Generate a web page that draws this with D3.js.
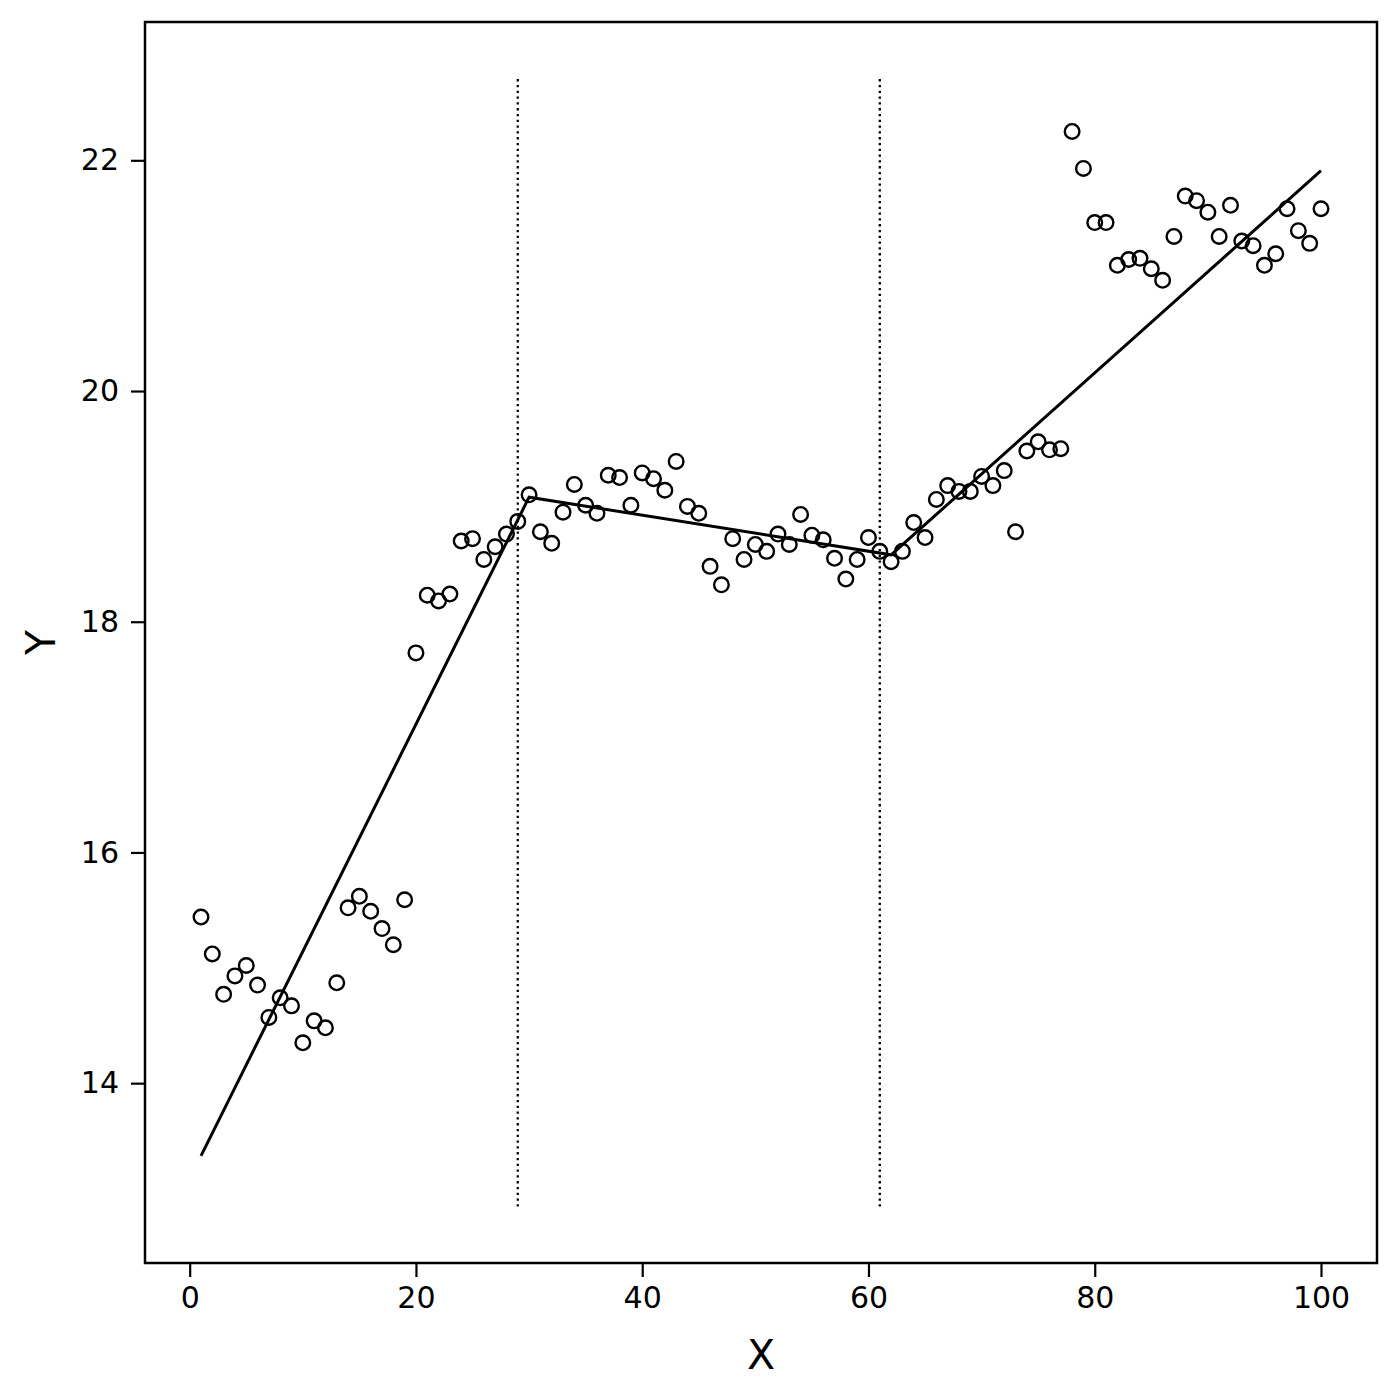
<!DOCTYPE html>
<html>
<head>
<meta charset="utf-8">
<script src="https://cdn.jsdelivr.net/npm/d3@7"></script>
<style>
  body { margin: 0; background: #fff; }
  text { font-family: "DejaVu Sans", sans-serif; fill: #000; }
</style>
</head>
<body>
<div id="chart"></div>
<script>
// observed Y values at X = 1..100
const xVals = d3.range(1, 101);
const yVals = [
  15.44, 15.12, 14.77, 14.93, 15.02, 14.85, 14.57, 14.74, 14.67, 14.35,
  14.54, 14.48, 14.87, 15.52, 15.62, 15.49, 15.34, 15.20, 15.59, 17.73,
  18.23, 18.18, 18.24, 18.70, 18.72, 18.54, 18.65, 18.76, 18.87, 19.10,
  18.78, 18.68, 18.95, 19.19, 19.01, 18.94, 19.27, 19.25, 19.01, 19.29,
  19.24, 19.14, 19.39, 19.00, 18.94, 18.48, 18.32, 18.72, 18.54, 18.67,
  18.61, 18.76, 18.67, 18.93, 18.75, 18.71, 18.55, 18.37, 18.54, 18.73,
  18.61, 18.52, 18.61, 18.86, 18.73, 19.06, 19.18, 19.13, 19.13, 19.26,
  19.18, 19.31, 18.78, 19.48, 19.56, 19.49, 19.50, 22.25, 21.93, 21.46,
  21.46, 21.09, 21.14, 21.15, 21.06, 20.96, 21.34, 21.69, 21.65, 21.55,
  21.34, 21.61, 21.30, 21.26, 21.09, 21.19, 21.58, 21.39, 21.28, 21.58
];

// piecewise fit knots
const fitX = [1, 30, 62, 100];
const fitY = [13.37, 19.08, 18.58, 21.91];

// breakpoints (dotted vertical lines) and their vertical extent
const breakX = [29, 61];
const breakYRange = [12.93, 22.71];

const xTicks = [0, 20, 40, 60, 80, 100];
const yTicks = [14, 16, 18, 20, 22];

const margin = {top: 22, right: 23, bottom: 137, left: 145},
  W = 1400, H = 1400,
  w = W - margin.left - margin.right,
  h = H - margin.top - margin.bottom;

const svg = d3.select("#chart").append("svg")
  .attr("width", W).attr("height", H)
  .append("g")
  .attr("transform", `translate(${margin.left},${margin.top})`);

// matplotlib-like 5% margins
const xExt = d3.extent(xVals), xPad = (xExt[1] - xExt[0]) * 0.05;
const yPad = (breakYRange[1] - breakYRange[0]) * 0.05;
const x = d3.scaleLinear().domain([xExt[0] - xPad, xExt[1] + xPad]).range([0, w]);
const y = d3.scaleLinear().domain([breakYRange[0] - yPad, breakYRange[1] + yPad]).range([h, 0]);

// dotted breakpoint lines
svg.selectAll(".brk")
  .data(breakX)
  .join("line")
  .attr("class", "brk")
  .attr("x1", d => x(d)).attr("x2", d => x(d))
  .attr("y1", y(breakYRange[0])).attr("y2", y(breakYRange[1]))
  .attr("stroke", "#000")
  .attr("stroke-width", 2.3)
  .attr("stroke-dasharray", "2.3,3.5");

// fitted line
const line = d3.line().x(d => x(d[0])).y(d => y(d[1]));
svg.append("path")
  .datum(d3.zip(fitX, fitY))
  .attr("d", line)
  .attr("fill", "none")
  .attr("stroke", "#000")
  .attr("stroke-width", 3);

// scatter points
svg.append("g")
  .selectAll("circle")
  .data(d3.zip(xVals, yVals))
  .join("circle")
  .attr("cx", d => x(d[0]))
  .attr("cy", d => y(d[1]))
  .attr("r", 7.3)
  .attr("fill", "none")
  .attr("stroke", "#000")
  .attr("stroke-width", 2.4);

// axes
const xAxis = svg.append("g")
  .attr("transform", `translate(0,${h})`)
  .call(d3.axisBottom(x).tickValues(xTicks).tickSize(14).tickPadding(10));
const yAxis = svg.append("g")
  .call(d3.axisLeft(y).tickValues(yTicks).tickSize(14).tickPadding(12));

[xAxis, yAxis].forEach(a => {
  a.select(".domain").remove();
  a.selectAll(".tick line").attr("stroke", "#000").attr("stroke-width", 2.2);
  a.selectAll(".tick text").attr("font-size", 30).attr("font-family", "DejaVu Sans");
});

// frame
svg.append("rect")
  .attr("x", 0).attr("y", 0)
  .attr("width", w).attr("height", h)
  .attr("fill", "none")
  .attr("stroke", "#000")
  .attr("stroke-width", 2.5);

// axis labels
svg.append("text")
  .attr("x", w / 2)
  .attr("y", h + 106)
  .attr("text-anchor", "middle")
  .attr("font-size", 41)
  .text("X");

svg.append("text")
  .attr("transform", `translate(${55 - margin.left},${h / 2}) rotate(-90)`)
  .attr("text-anchor", "middle")
  .attr("font-size", 41)
  .text("Y");
</script>
</body>
</html>
